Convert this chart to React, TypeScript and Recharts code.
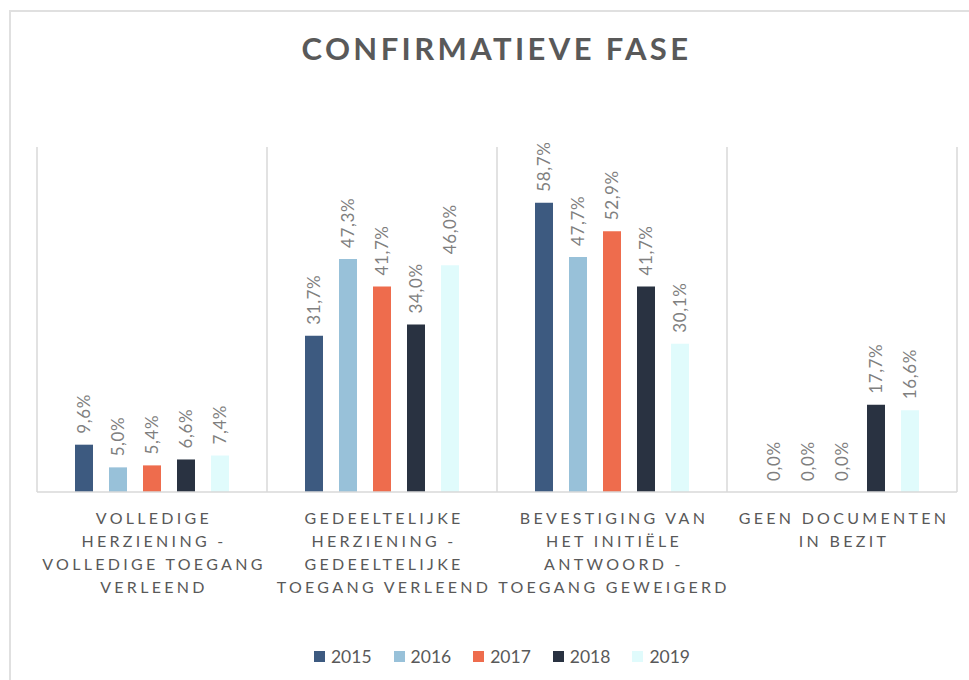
import React from "react";
import {
  BarChart,
  Bar,
  XAxis,
  YAxis,
  CartesianGrid,
  Legend,
  LabelList,
} from "recharts";

const categories = [
  "VOLLEDIGE\nHERZIENING -\nVOLLEDIGE TOEGANG\nVERLEEND",
  "GEDEELTELIJKE\nHERZIENING -\nGEDEELTELIJKE\nTOEGANG VERLEEND",
  "BEVESTIGING VAN\nHET INITIËLE\nANTWOORD -\nTOEGANG GEWEIGERD",
  "GEEN DOCUMENTEN\nIN BEZIT",
];

const years = ["2015", "2016", "2017", "2018", "2019"];
const colors = ["#3d5a80", "#98c1d9", "#ee6c4d", "#293241", "#e0fbfc"];

const values2015 = [9.6, 31.7, 58.7, 0.0];
const values2016 = [5.0, 47.3, 47.7, 0.0];
const values2017 = [5.4, 41.7, 52.9, 0.0];
const values2018 = [6.6, 34.0, 41.7, 17.7];
const values2019 = [7.4, 46.0, 30.1, 16.6];

const seriesValues = [values2015, values2016, values2017, values2018, values2019];

const chartData = categories.map((name, i) => {
  const row: Record<string, string | number> = { name };
  years.forEach((y, s) => {
    row[y] = seriesValues[s][i];
  });
  return row;
});

const FONT = "Lato, 'Open Sans', sans-serif";

function CategoryTick(props: any) {
  const { x, y, payload } = props;
  const lines = String(payload.value).split("\n");
  return (
    <text
      x={x}
      y={y}
      textAnchor="middle"
      fill="#595959"
      fontFamily={FONT}
      fontSize={16}
      letterSpacing={3.3}
    >
      {lines.map((line, i) => (
        <tspan key={i} x={x + 2} dy={i === 0 ? 24 : 23}>
          {line}
        </tspan>
      ))}
    </text>
  );
}

function RotatedLabel(props: any) {
  const { x, y, width, value } = props;
  const cx = x + width / 2;
  const top = y - 11;
  const text = Number(value).toFixed(1).replace(".", ",") + "%";
  return (
    <text
      x={cx}
      y={top}
      transform={`rotate(-90, ${cx}, ${top})`}
      textAnchor="start"
      dominantBaseline="central"
      fill="#7f7f7f"
      fontFamily={FONT}
      fontSize={17}
      letterSpacing={0.6}
    >
      {text}
    </text>
  );
}

function YearLegend() {
  return (
    <div
      style={{
        display: "flex",
        justifyContent: "center",
        alignItems: "center",
        gap: 22,
        height: 40,
        paddingLeft: 10,
        fontFamily: FONT,
        fontSize: 17.5,
        color: "#595959",
      }}
    >
      {years.map((y, i) => (
        <div key={y} style={{ display: "flex", alignItems: "center", gap: 6 }}>
          <span
            style={{
              display: "inline-block",
              width: 11,
              height: 11,
              background: colors[i],
            }}
          />
          <span>{y}</span>
        </div>
      ))}
    </div>
  );
}

export default function App() {
  return (
    <div
      style={{
        position: "absolute",
        left: 0,
        top: 0,
        width: 969,
        height: 680,
        overflow: "hidden",
        background: "#fff",
      }}
    >
      <div
        style={{
          position: "absolute",
          left: 9,
          top: 10,
          width: 980,
          height: 700,
          borderLeft: "2px solid #e0e0e0",
          borderTop: "2px solid #e0e0e0",
        }}
      />
      <div
        style={{
          position: "absolute",
          left: 0,
          top: 29,
          width: 993,
          textAlign: "center",
          fontFamily: FONT,
          fontWeight: 700,
          fontSize: 31,
          letterSpacing: 3.4,
          color: "#595959",
        }}
      >
        CONFIRMATIEVE FASE
      </div>
      <div style={{ position: "absolute", left: 0, top: 0 }}>
        <BarChart
          width={969}
          height={680}
          data={chartData}
          margin={{ top: 147, right: 12, bottom: 4, left: 37 }}
          barSize={18}
          barGap={16}
        >
          <CartesianGrid
            horizontal={false}
            stroke="#d9d9d9"
            strokeWidth={1.5}
            verticalCoordinatesGenerator={({ offset }: any) =>
              Array.from(
                { length: categories.length + 1 },
                (_, i) => offset.left + (i * offset.width) / categories.length
              )
            }
          />
          <XAxis
            dataKey="name"
            interval={0}
            height={144}
            tickLine={false}
            axisLine={{ stroke: "#d9d9d9", strokeWidth: 1.5 }}
            tick={<CategoryTick />}
          />
          <YAxis hide domain={[0, 70]} />
          <Legend
            verticalAlign="bottom"
            height={40}
            content={() => <YearLegend />}
          />
          {years.map((y, i) => (
            <Bar
              key={y}
              dataKey={y}
              fill={colors[i]}
              minPointSize={0.01}
              isAnimationActive={false}
            >
              <LabelList dataKey={y} content={<RotatedLabel />} />
            </Bar>
          ))}
        </BarChart>
      </div>
    </div>
  );
}
